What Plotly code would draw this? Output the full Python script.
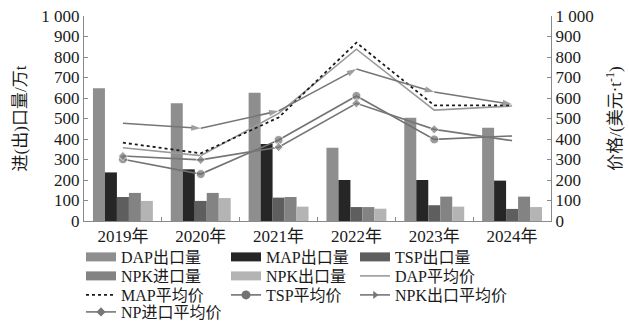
import plotly.graph_objects as go

# Categories
years = ["2019年", "2020年", "2021年", "2022年", "2023年", "2024年"]

# Export / import volumes (10k t)
dap_export = [647, 574, 626, 357, 504, 455]
map_export = [237, 252, 376, 200, 200, 197]
tsp_export = [117, 98, 114, 68, 77, 59]
npk_import = [137, 137, 117, 68, 119, 119]
npk_export = [98, 112, 70, 60, 70, 68]

# Average prices (USD/t)
dap_price = [357, 319, 525, 838, 541, 561]
map_price = [382, 330, 505, 870, 564, 564]
tsp_price = [301, 229, 395, 610, 398, 415]
npk_export_price = [477, 452, 537, 741, 629, 569]
np_import_price = [317, 298, 360, 574, 447, 392]

tick_vals = [0, 100, 200, 300, 400, 500, 600, 700, 800, 900, 1000]
tick_text = ["0", "100", "200", "300", "400", "500", "600", "700", "800", "900", "1 000"]

FONT = "Liberation Serif, Noto Sans CJK SC, serif"
TXT = "#1a1a1a"

bar_series = [
    ("DAP出口量", dap_export, "#8e8e8e"),
    ("MAP出口量", map_export, "#262626"),
    ("TSP出口量", tsp_export, "#5e5e5e"),
    ("NPK进口量", npk_import, "#838383"),
    ("NPK出口量", npk_export, "#b4b4b4"),
]

fig = go.Figure()

for name, vals, col in bar_series:
    fig.add_trace(go.Bar(x=years, y=vals, name=name, marker=dict(color=col, line=dict(width=0)),
                         showlegend=False))

# Markers sit on the inner points; the arrowed series marks each segment's end
n = len(years)
inner = [1] * (n - 1) + [0]
after_first = [0] + [1] * (n - 1)

line_series = [
    ("DAP平均价", dap_price, dict(color="#9a9a9a", width=1.6), dict(size=1, opacity=0)),
    ("MAP平均价", map_price, dict(color="#1a1a1a", width=1.8, dash="dot"), dict(size=1, opacity=0)),
    ("TSP平均价", tsp_price, dict(color="#727272", width=1.6),
     dict(symbol="circle", size=[9 * k for k in inner], color="#727272")),
    ("NPK出口平均价", npk_export_price, dict(color="#767676", width=1.6),
     dict(symbol="arrow", size=[10 * k for k in after_first], color="#767676", angleref="previous",
          line=dict(width=0))),
    ("NP进口平均价", np_import_price, dict(color="#767676", width=1.6),
     dict(symbol="diamond", size=[7 * k for k in inner], color="#767676")),
]

for name, vals, ln, mk in line_series:
    fig.add_trace(go.Scatter(x=years, y=vals, name=name, yaxis="y2", mode="lines+markers",
                             line=ln, marker=mk, showlegend=False))

# Legend entries: one legend box per entry, laid out in a 3-column grid
legend_entries = [
    ("DAP出口量", dict(color="#8e8e8e", width=9), None),
    ("MAP出口量", dict(color="#262626", width=9), None),
    ("TSP出口量", dict(color="#5e5e5e", width=9), None),
    ("NPK进口量", dict(color="#838383", width=9), None),
    ("NPK出口量", dict(color="#b4b4b4", width=9), None),
    ("DAP平均价", dict(color="#9a9a9a", width=1.6), None),
    ("MAP平均价", dict(color="#1a1a1a", width=1.8, dash="dot"), None),
    ("TSP平均价", dict(color="#727272", width=1.6), dict(symbol="circle", size=9, color="#727272")),
    ("NPK出口平均价", dict(color="#767676", width=1.6), dict(symbol="triangle-right", size=7, color="#767676")),
    ("NP进口平均价", dict(color="#767676", width=1.6), dict(symbol="diamond", size=7, color="#767676")),
]

col_x = [85, 230, 359]
row_y = [257, 276, 295, 312]
plot_left, plot_right, plot_top, plot_bottom = 84, 551, 16, 221

legend_layouts = {}
for i, (name, ln, mk) in enumerate(legend_entries):
    key = "legend" if i == 0 else f"legend{i + 1}"
    r, c = divmod(i, 3)
    mode = "lines+markers" if mk else "lines"
    fig.add_trace(go.Scatter(x=[None], y=[None], name=name, mode=mode, line=ln,
                             marker=mk if mk else None, legend=key, showlegend=True))
    px_x = col_x[c] - 4
    px_y = row_y[r]
    legend_layouts[key] = dict(
        x=(px_x - plot_left) / (plot_right - plot_left),
        y=1 - (px_y - plot_top) / (plot_bottom - plot_top),
        xanchor="left", yanchor="middle",
        bgcolor="rgba(0,0,0,0)", borderwidth=0,
        font=dict(family=FONT, size=16, color=TXT),
        itemwidth=30, tracegroupgap=0,
    )

fig.update_layout(
    width=629, height=324,
    margin=dict(l=84, r=78, t=16, b=103, autoexpand=False),
    paper_bgcolor="white", plot_bgcolor="white",
    barmode="group", bargap=0.23, bargroupgap=0,
    font=dict(family=FONT, size=17, color=TXT),
    xaxis=dict(showline=True, linecolor="#8a8a8a", linewidth=1, ticks="inside", ticklen=4,
               tickcolor="#8a8a8a", tickson="boundaries", showgrid=False,
               tickfont=dict(family=FONT, size=17, color=TXT)),
    yaxis=dict(range=[0, 1000], tickvals=tick_vals, ticktext=tick_text, showgrid=False,
               showline=True, linecolor="#8a8a8a", linewidth=1, ticks="inside", ticklen=4,
               tickcolor="#8a8a8a", zeroline=False,
               tickfont=dict(family=FONT, size=17, color=TXT),
               title=dict(text="进(出)口量/万t", font=dict(family=FONT, size=17, color=TXT), standoff=10)),
    yaxis2=dict(range=[0, 1000], tickvals=tick_vals, ticktext=tick_text, overlaying="y", side="right",
                showgrid=False, showline=True, linecolor="#8a8a8a", linewidth=1, ticks="inside",
                ticklen=4, tickcolor="#8a8a8a", zeroline=False,
                tickfont=dict(family=FONT, size=17, color=TXT),
                title=dict(text="价格/(美元·t<sup>-1</sup>)", font=dict(family=FONT, size=17, color=TXT),
                           standoff=16)),
    **legend_layouts,
)

fig.write_html("out.html")
